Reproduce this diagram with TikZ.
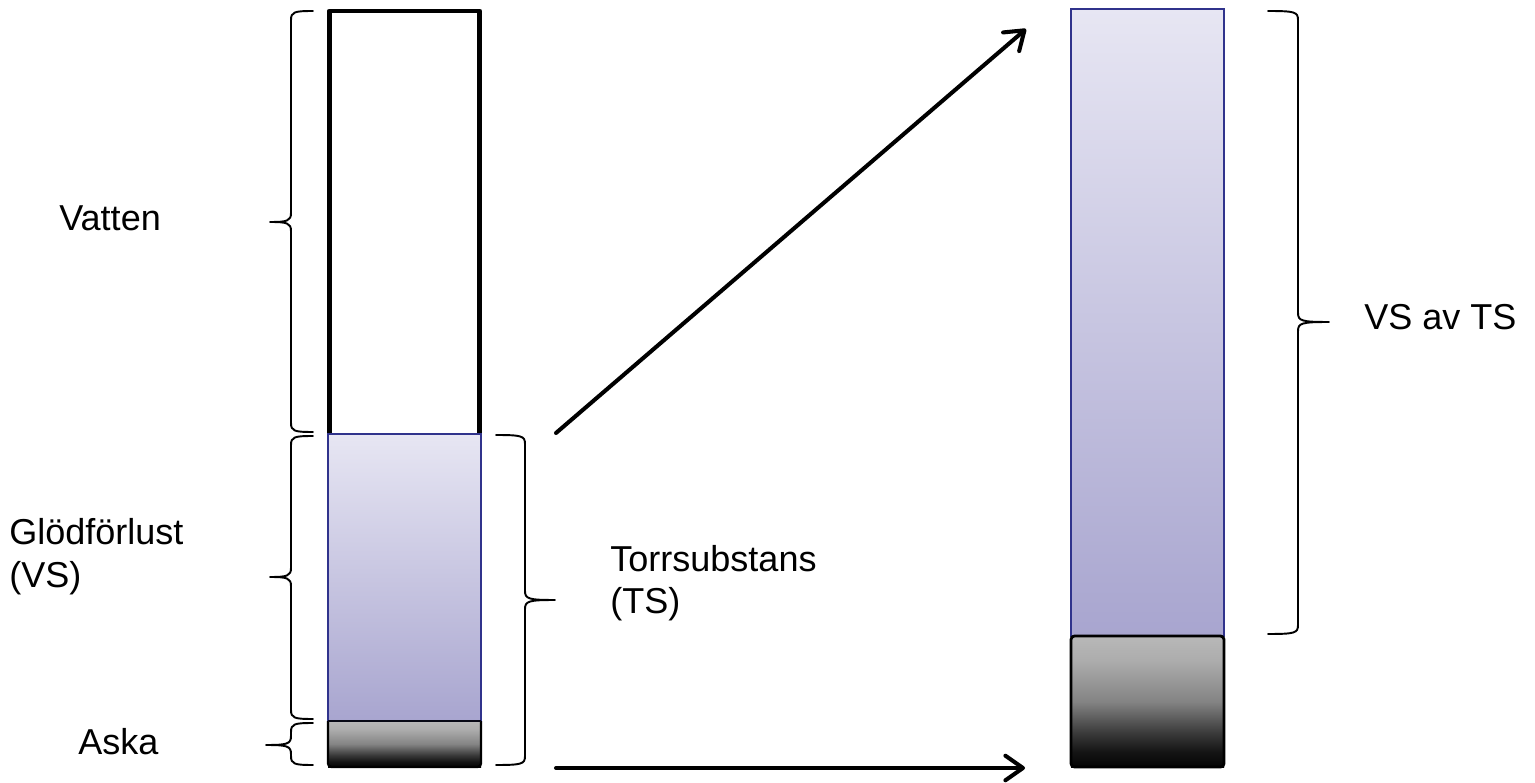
\documentclass[tikz,border=0pt]{standalone}
\usepackage{fontspec}
\setmainfont{Liberation Sans}
\usetikzlibrary{arrows.meta}
\definecolor{bluetop}{HTML}{E7E6F3}
\definecolor{bluebot}{HTML}{A8A5CF}
\definecolor{navy}{HTML}{30338C}
\definecolor{ashA}{HTML}{040404}
\definecolor{ashB}{HTML}{151515}
\definecolor{ashC}{HTML}{3A3A3A}
\definecolor{ashD}{HTML}{848484}
\definecolor{ashE}{HTML}{ADADAD}
\definecolor{ashF}{HTML}{B8B8B8}
\pgfdeclareverticalshading{ashshade}{100bp}{color(0bp)=(ashA); color(25bp)=(ashA); color(31bp)=(ashB); color(38bp)=(ashC); color(50bp)=(ashD); color(66bp)=(ashE); color(75bp)=(ashF); color(100bp)=(ashF)}
\newcommand\mybrace[7]{% xv, xe, xt, y1, ym, y2, s
  \draw[brc] ({#2},{#4}) .. controls ({#1+3*#7},{#4}) and ({#1},{#4+1}) .. ({#1},{#4+9})
    -- ({#1},{#5-9}) .. controls ({#1},{#5-1}) and ({#1-4*#7},{#5}) .. ({#3},{#5})
    .. controls ({#1-4*#7},{#5}) and ({#1},{#5+1}) .. ({#1},{#5+9})
    -- ({#1},{#6-9}) .. controls ({#1},{#6-1}) and ({#1+3*#7},{#6}) .. ({#2},{#6});}
\begin{document}
\begin{tikzpicture}[x=0.02cm,y=-0.02cm,
  lbl/.style={inner sep=0pt, anchor=base west, font=\fontsize{20.5}{24}\selectfont},
  brc/.style={line width=1.1pt, line cap=round, line join=round},
  arr/.style={line width=2.3pt, line cap=round, -{Straight Barb[length=10pt,width=14pt,round]}}]
\useasboundingbox (0,0) rectangle (1535,783);

% left column
\draw[line width=2.8pt, line join=round] (329.5,434) -- (329.5,11) -- (479.5,11) -- (479.5,434);
\shade[top color=bluetop,bottom color=bluebot] (328,434) rectangle (481,721);
\draw[navy,line width=0.9pt] (328,434) rectangle (481,721);
\shade[shading=ashshade] (328,721) rectangle (481,767);
\draw[line width=1.3pt, rounded corners=2pt] (328,721) -- (328,767) -- (481,767) -- (481,721);
\draw[line width=0.9pt, black!85!navy] (328,721) -- (481,721);

% right column
\shade[top color=bluetop,bottom color=bluebot] (1071,9) rectangle (1224,636);
\draw[navy,line width=1pt] (1071,9) rectangle (1224,636);
\shade[shading=ashshade] (1071,636) rectangle (1224,767);
\draw[line width=1.6pt, rounded corners=2pt] (1071,636) -- (1071,767) -- (1224,767) -- (1224,636) -- cycle;

% braces
\mybrace{291}{313}{270}{11}{222}{432}{1}
\mybrace{291}{313}{270}{436}{577}{719}{1}
\mybrace{291}{313}{266}{723}{745}{765}{1}
\mybrace{525}{496}{555}{435}{600}{765}{-1}
\mybrace{1298}{1268}{1329}{11}{322}{634}{-1}

% arrows
\coordinate (d0) at (556,433);
\coordinate (d1) at (1026,29);
\coordinate (h0) at (556,768);
\coordinate (h1) at (1025,768);
\draw[arr] (d0) -- (d1);
\draw[arr] (h0) -- (h1);

% labels
\node[lbl] (vatten) at (59,231) {Vatten};
\node[lbl] (glod) at (9,545) {Glödförlust};
\node[lbl] (vs) at (9,587) {(VS)};
\node[lbl] (aska) at (78,754) {Aska};
\node[lbl] (torr) at (610,572) {Torrsubstans};
\node[lbl] (ts) at (610,614) {(TS)};
\node[lbl] (vsavts) at (1364,330) {VS av TS};
\end{tikzpicture}
\end{document}
